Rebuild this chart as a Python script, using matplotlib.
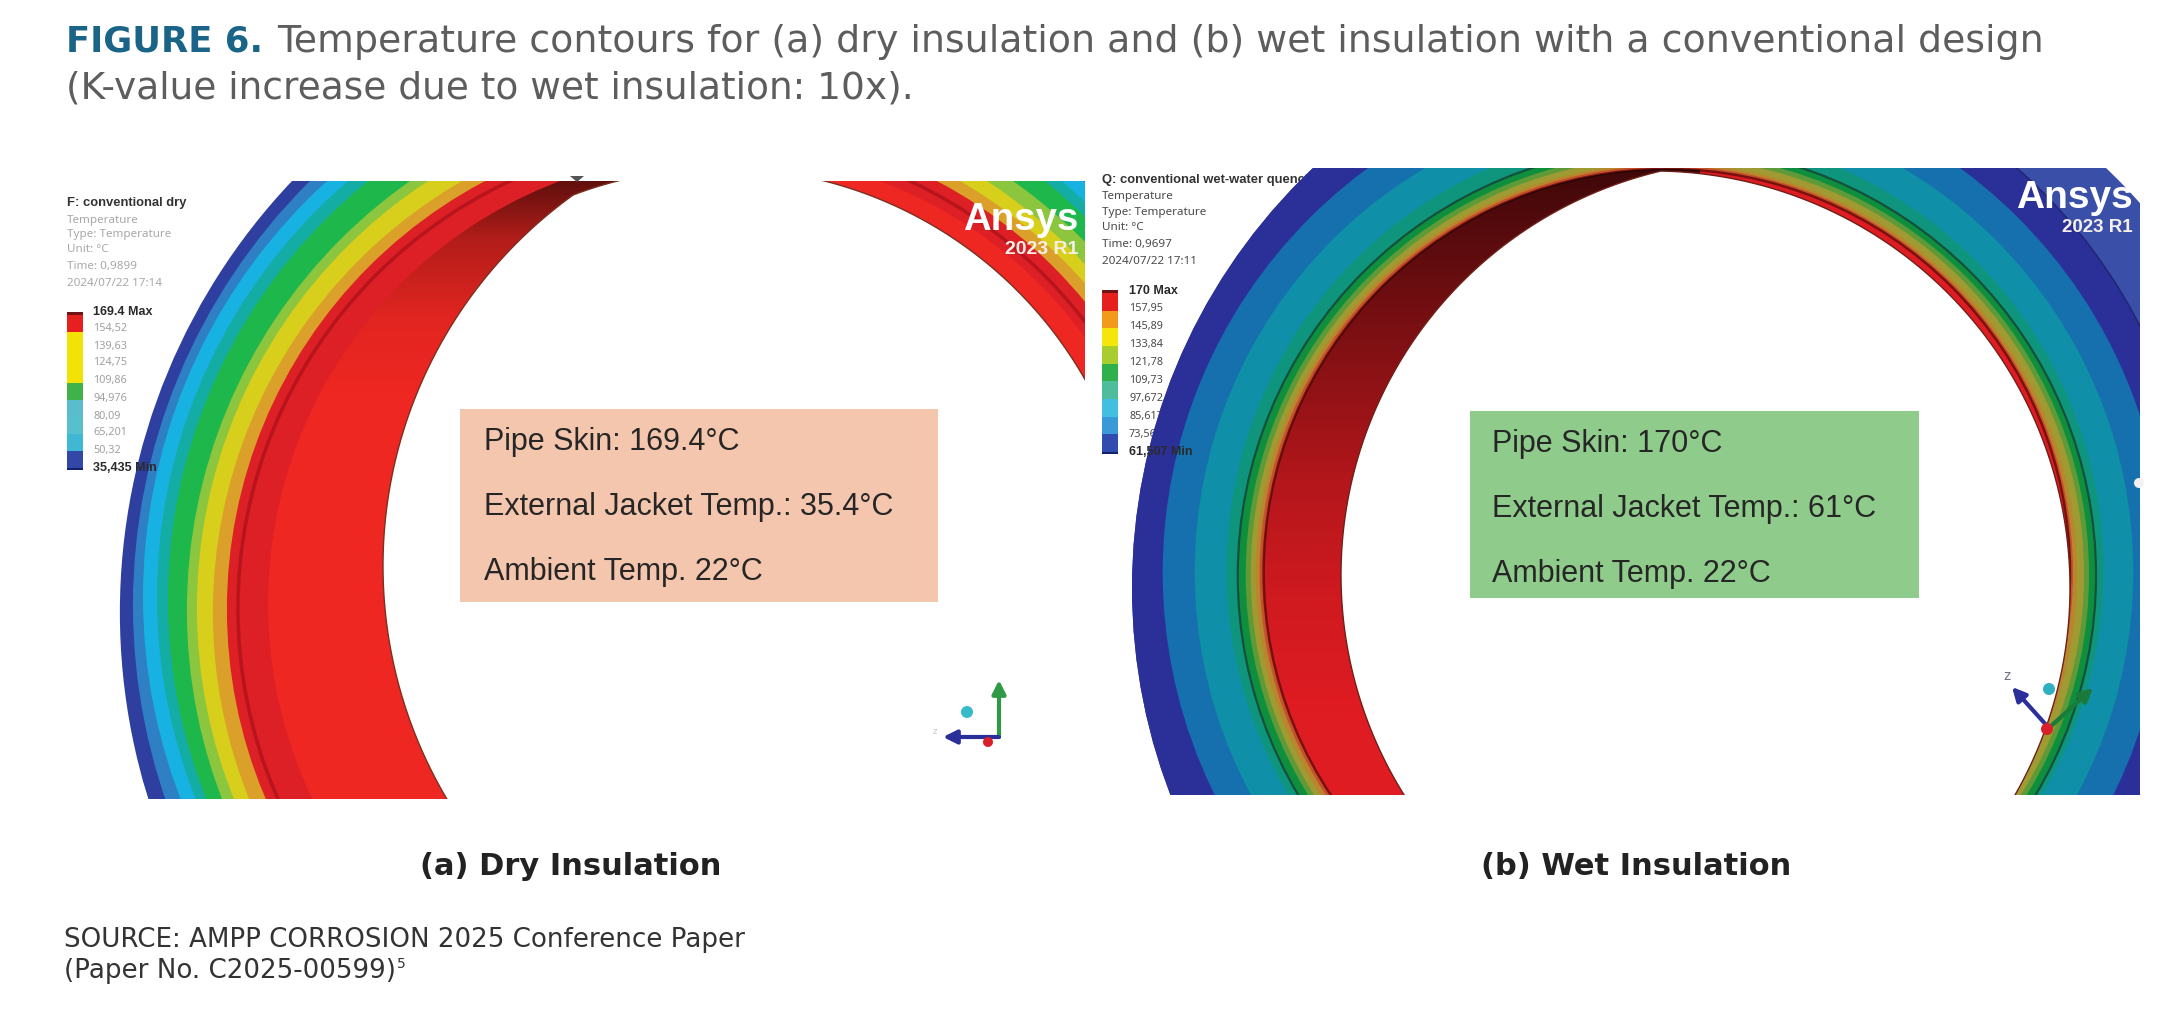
import numpy as np
import matplotlib
matplotlib.use("Agg")
import matplotlib.pyplot as plt
from matplotlib.patches import Circle, Rectangle, Polygon, FancyArrowPatch

W, H = 2184, 1009
# ---------- text ----------
title_bold = "FIGURE 6."
title_line1 = "Temperature contours for (a) dry insulation and (b) wet insulation with a conventional design"
title_line2 = "(K-value increase due to wet insulation: 10x)."
source_lines = ["SOURCE: AMPP CORROSION 2025 Conference Paper", "(Paper No. C2025-00599)"]
panel_titles = ["(a) Dry Insulation", "(b) Wet Insulation"]

# ---------- legends ----------
dry_head = ["F: conventional dry", "Temperature", "Type: Temperature", "Unit: °C", "Time: 0,9899", "2024/07/22 17:14"]
dry_labels = ["169.4 Max", "154,52", "139,63", "124,75", "109,86", "94,976", "80,09", "65,201", "50,32", "35,435 Min"]
dry_swatches = ["#e5201f", "#f2e205", "#f2e205", "#f2e205", "#3fb24a", "#5bbccd", "#58bfcc", "#40b8d4", "#3347a8"]
wet_head = ["Q: conventional wet-water quench", "Temperature", "Type: Temperature", "Unit: °C", "Time: 0,9697", "2024/07/22 17:11"]
wet_labels = ["170 Max", "157,95", "145,89", "133,84", "121,78", "109,73", "97,672", "85,617", "73,562", "61,507 Min"]
wet_swatches = ["#e5201f", "#f39a1c", "#f5e60a", "#a9cc2f", "#2fb04a", "#4fbd9c", "#40bfe0", "#3a9ad8", "#2f4cae"]

dry_box = ["Pipe Skin: 169.4°C", "External Jacket Temp.: 35.4°C", "Ambient Temp. 22°C"]
wet_box = ["Pipe Skin: 170°C", "External Jacket Temp.: 61°C", "Ambient Temp. 22°C"]

# ---------- contour bands: colour, left crossing, top-left crossing, top-right crossing ----------
dry_band_colors = ["#2f3f9f", "#2f7fc4", "#17b2e2", "#14ada6", "#1eb74c", "#8cc63f", "#d8cf1c", "#dba02a", "#dd1f26", "#ee2722"]
dry_left = [120, 133, 143, 157, 168, 187, 197, 213, 227, 268]
dry_top_l = [292, 310, 327, 348, 368, 410, 428, 462, 485, 560]
dry_top_r = [1201, 1150, 1083, 1062, 1045, 1013, 987, 960, 937, 880]
dry_line = (238, 510, 910)

wet_band_colors = ["#3a4fa8", "#2b2f98", "#1570ad", "#0f8fa8", "#0f957e", "#0e8f3e", "#5f9a38", "#a09a33", "#b9862e", "#c4512a", "#df1c22"]
# left point (x, 590), top point (x, 168), third point (x, y)
wet_pts = [
    ((1132, 590), (1313, 168), (2140, 203)),
    ((1133, 590), (1314, 168), (2017, 168)),
    ((1163, 590), (1368, 168), (1960, 168)),
    ((1195, 590), (1425, 168), (1903, 168)),
    ((1227, 590), (1490, 168), (1840, 168)),
    ((1238, 590), (1532, 168), (2096, 570)),
    ((1246, 590), (1555, 168), (2089, 570)),
    ((1251, 590), (1575, 168), (2084, 570)),
    ((1256, 590), (1605, 168), (2077, 570)),
    ((1260, 590), (1625, 168), (2073, 570)),
    ((1264, 590), (1638, 170), (2070, 570)),
]
# two arcs bounding the open bore of each model
dry_bore = [(840, 566, 457), (721, 587, 419)]
wet_bore = [(1756, 575, 415), (1653, 588, 417)]

plt.rcParams["font.family"] = ["Noto Sans", "DejaVu Sans"]
BOLD = ["Liberation Sans"]
fig = plt.figure(figsize=(W / 100, H / 100), dpi=100, facecolor="white")
ax = fig.add_axes([0, 0, 1, 1])
ax.set_axis_off()


def circle3(p1, p2, p3):
    a = 2 * np.array([[p2[0] - p1[0], p2[1] - p1[1]], [p3[0] - p1[0], p3[1] - p1[1]]], float)
    b = np.array([p2[0] ** 2 + p2[1] ** 2 - p1[0] ** 2 - p1[1] ** 2,
                  p3[0] ** 2 + p3[1] ** 2 - p1[0] ** 2 - p1[1] ** 2], float)
    c = np.linalg.solve(a, b)
    return c[0], c[1], np.hypot(p1[0] - c[0], p1[1] - c[1])


def bore_polygon(circles, inside):
    th = np.linspace(0, 2 * np.pi, 1500)
    d = np.c_[np.cos(th), np.sin(th)]
    ts = []
    for cx, cy, r in circles:
        o = np.array(inside) - (cx, cy)
        b = d @ o
        ts.append(-b + np.sqrt(b ** 2 - (o @ o - r ** 2)))
    t = np.min(ts, axis=0)
    return np.array(inside) + d * t[:, None]


def shade(x0, x1, y0, y1, ys, alphas, clip):
    yy = np.linspace(y0, y1, 300)
    al = np.interp(yy, ys, alphas)
    img = np.zeros((300, 2, 4))
    img[..., 3] = np.c_[al, al]
    im = ax.imshow(img, extent=(x0, x1, y1, y0), aspect="auto", zorder=3, interpolation="bilinear")
    im.set_clip_path(clip)


# ---------- panel (a) ----------
clip_a = Rectangle((118, 181), 967, 618, transform=ax.transData)
last = None
for col, l, tl, tr in zip(dry_band_colors, dry_left, dry_top_l, dry_top_r):
    c = circle3((l, 600), (tl, 181), (tr, 181))
    last = Circle(c[:2], c[2], fc=col, ec="none", zorder=2)
    ax.add_patch(last)
    last.set_clip_path(clip_a)
c = circle3((dry_line[0], 600), (dry_line[1], 181), (dry_line[2], 181))
p = Circle(c[:2], c[2], fc="none", ec="#b8141c", lw=2.5, zorder=2.5)
ax.add_patch(p)
p.set_clip_path(clip_a)
shade(200, 720, 181, 430, [181, 240, 320, 400], [0.6, 0.25, 0.05, 0], Circle(last.center, last.radius, transform=ax.transData))
h = Polygon(bore_polygon(dry_bore, (700, 500)), fc="white", ec="#7a3020", lw=1, zorder=4)
ax.add_patch(h)
h.set_clip_path(clip_a)
ax.add_patch(Rectangle((800, 700), 290, 105, fc="white", ec="none", zorder=4.5))
ax.add_patch(Polygon([(570, 176), (584, 176), (577, 182)], fc="#555555", ec="none", zorder=5))

# ---------- panel (b) ----------
clip_b = Rectangle((1100, 168), 1040, 627, transform=ax.transData)
clip_b_left = Rectangle((1100, 168), 700, 627, transform=ax.transData)
clip_b_right = Rectangle((1800, 168), 340, 627, transform=ax.transData)
last = None
for i, (col, pts) in enumerate(zip(wet_band_colors, wet_pts)):
    c = circle3(*pts)
    if i == 1:
        # the lighter outer skin only shows at the upper right
        c0 = circle3(*wet_pts[0])
        cov = Circle(c0[:2], c0[2], fc=col, ec="none", zorder=2)
        ax.add_patch(cov)
        cov.set_clip_path(clip_b_left)
    last = Circle(c[:2], c[2], fc=col, ec="none", zorder=2)
    ax.add_patch(last)
    last.set_clip_path(clip_b_right if i == 1 else clip_b)
for idx, lc, lw in [(5, "#14503c", 1.6), (1, "#20256f", 1.0), (10, "#7a1010", 1.8)]:
    c = circle3(*wet_pts[idx])
    p = Circle(c[:2], c[2], fc="none", ec=lc, lw=lw, zorder=2.5)
    ax.add_patch(p)
    p.set_clip_path(clip_b_right if idx == 1 else clip_b)
shade(1264, 1700, 168, 795, [168, 300, 480, 600, 720], [0.72, 0.5, 0.2, 0.07, 0],
      Circle(last.center, last.radius, transform=ax.transData))
h = Polygon(bore_polygon(wet_bore, (1700, 500)), fc="white", ec="#6e2018", lw=1, zorder=4)
ax.add_patch(h)
h.set_clip_path(clip_b)
ax.add_patch(Circle((2139, 483), 5, fc="#f2f2f2", ec="none", zorder=4))


# ---------- legends ----------
def legend(head, labels, swatches, x, head_ys, top, bottom, lab_ys, lab_x, hc, lc, z_mid):
    for i, (s, y) in enumerate(zip(head, head_ys)):
        if i == 0:
            ax.text(x, y, s, fontsize=9.4, fontweight="bold", family=BOLD, color="#333333",
                    va="center", ha="left", zorder=1)
        else:
            ax.text(x, y, s, fontsize=8.4, color=hc, va="center", ha="left", zorder=1)
    n = len(swatches)
    e = np.linspace(top + 3, bottom - 1, n + 1)
    ax.add_patch(Rectangle((x, top), 16, 3, fc="#701515", ec="none", zorder=1.5))
    for i, col in enumerate(swatches):
        ax.add_patch(Rectangle((x, e[i]), 16, e[i + 1] - e[i], fc=col, ec="none", zorder=1.5))
    ax.add_patch(Rectangle((x, bottom - 1), 16, 1.5, fc="#15206a", ec="none", zorder=1.5))
    for i, (s, y) in enumerate(zip(labels, lab_ys)):
        if i in (0, len(labels) - 1):
            ax.text(lab_x, y, s, fontsize=9, fontweight="bold", family=BOLD, color="#2a2a2a",
                    va="center", ha="left", zorder=z_mid)
        else:
            ax.text(lab_x, y, s, fontsize=7.8, color=lc, va="center", ha="left", zorder=1)


legend(dry_head, dry_labels, dry_swatches, 67, [203, 220, 235, 250, 267, 283], 312, 469,
       [312, 329, 347, 363, 381, 398, 417, 433, 451, 468], 93, "#a8a8a8", "#a0a0a0", 6)
legend(wet_head, wet_labels, wet_swatches, 1102, [180, 197, 212, 228, 244, 261], 290, 453,
       [291, 308, 326, 344, 362, 380, 398, 417, 435, 452], 1129, "#4a4a4a", "#4a4a4a", 6)

# ---------- result boxes ----------
for (x, y, w, hh, col), lines, tx in [((460, 409, 478, 193, "#f5c6ae"), dry_box, 484),
                                       ((1470, 411, 449, 187, "#8fcb8b"), wet_box, 1492)]:
    ax.add_patch(Rectangle((x, y), w, hh, fc=col, ec="none", zorder=6))
    for s, ty in zip(lines, [y + 33, y + 98, y + 163]):
        ax.text(tx, ty, s, fontsize=22, family=["Liberation Sans"], color="#262626", va="center", ha="left", zorder=7)

# ---------- logos ----------
for x, y1, y2, fs1, fs2 in [(1078, 220, 250, 27.6, 14), (2133, 198, 228, 28, 13.5)]:
    ax.text(x, y1, "Ansys", fontsize=fs1, fontweight="bold", family=BOLD, color="white", ha="right", va="center", zorder=6)
    ax.text(x, y2, "2023 R1", fontsize=fs2, fontweight="bold", family=BOLD, color="#f4f0e8", ha="right", va="center", zorder=6)


# ---------- triads ----------
def arrow(a, b, col, lw=3):
    ax.add_patch(FancyArrowPatch(a, b, arrowstyle="-|>", mutation_scale=20, color=col, lw=lw, zorder=5, shrinkA=0, shrinkB=0))


arrow((999, 737), (999, 680), "#2f9a46")
arrow((999, 737), (943, 737), "#2a2f9a")
ax.add_patch(Circle((988, 742), 5, fc="#d9202a", ec="none", zorder=6))
ax.add_patch(Circle((967, 712), 6, fc="#35bcc8", ec="none", zorder=6))
ax.text(935, 731, "z", fontsize=7, color="#c8c8c8", ha="center", va="center", zorder=5)
arrow((2048, 727), (2012, 687), "#2a2f9a")
arrow((2050, 727), (2093, 688), "#1a7a3a")
ax.add_patch(Circle((2047, 729), 6, fc="#d9202a", ec="none", zorder=6))
ax.add_patch(Circle((2049, 689), 6, fc="#2fb0c0", ec="none", zorder=6))
ax.text(2007, 676, "z", fontsize=11, color="#707088", ha="center", va="center", zorder=5)

# ---------- captions ----------
ax.set_xlim(0, W)
ax.set_ylim(H, 0)
r = fig.canvas.get_renderer()
cap = ["DejaVu Sans"]
t = ax.text(66, 52, title_bold, fontsize=25.5, fontweight="bold", family=cap, color="#1a6488", ha="left", va="baseline")
bb = t.get_window_extent(r)
ax.text(bb.x1 + 14, 52, title_line1, fontsize=27.3, family=cap, color="#5d5d5d", ha="left", va="baseline")
ax.text(66, 98, title_line2, fontsize=27, family=cap, color="#5d5d5d", ha="left", va="baseline")
for s, cx in zip(panel_titles, [571, 1636]):
    ax.text(cx, 875, s, fontsize=22, fontweight="bold", family=cap, color="#222222", ha="center", va="baseline")
ax.text(64, 947, source_lines[0], fontsize=18.8, family=cap, color="#333333", ha="left", va="baseline")
t = ax.text(64, 978, source_lines[1], fontsize=18.8, family=cap, color="#333333", ha="left", va="baseline")
bb = t.get_window_extent(r)
ax.text(bb.x1 + 1, 968, "5", fontsize=10, family=cap, color="#333333", ha="left", va="baseline")

fig.savefig("out.png", dpi=100, facecolor="white")
